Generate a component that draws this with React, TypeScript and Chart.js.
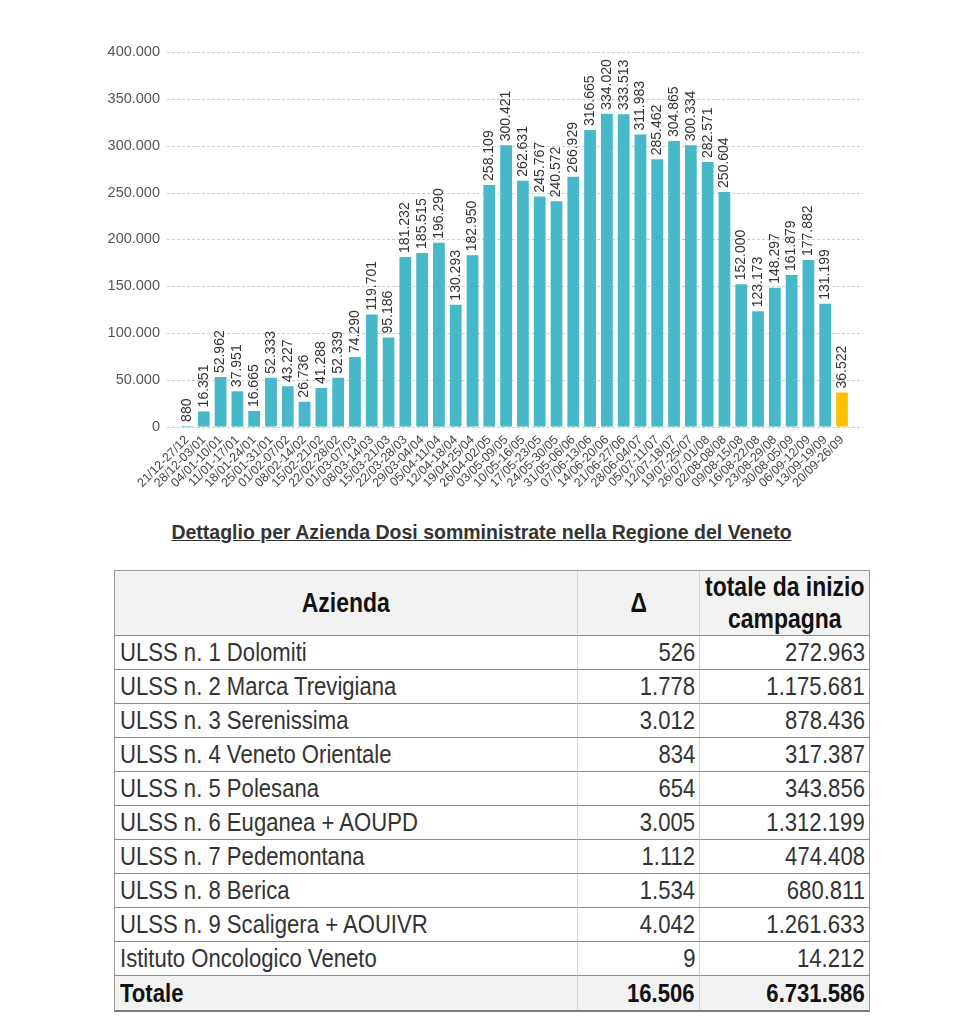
import React, { useEffect, useRef } from "react";
import { Chart, registerables } from "chart.js";

Chart.register(...registerables);

const weeks = [
  "21/12-27/12", "28/12-03/01", "04/01-10/01", "11/01-17/01", "18/01-24/01",
  "25/01-31/01", "01/02-07/02", "08/02-14/02", "15/02-21/02", "22/02-28/02",
  "01/03-07/03", "08/03-14/03", "15/03-21/03", "22/03-28/03", "29/03-04/04",
  "05/04-11/04", "12/04-18/04", "19/04-25/04", "26/04-02/05", "03/05-09/05",
  "10/05-16/05", "17/05-23/05", "24/05-30/05", "31/05-06/06", "07/06-13/06",
  "14/06-20/06", "21/06-27/06", "28/06-04/07", "05/07-11/07", "12/07-18/07",
  "19/07-25/07", "26/07-01/08", "02/08-08/08", "09/08-15/08", "16/08-22/08",
  "23/08-29/08", "30/08-05/09", "06/09-12/09", "13/09-19/09", "20/09-26/09",
];

const doses = [
  880, 16351, 52962, 37951, 16665, 52333, 43227, 26736, 41288, 52339,
  74290, 119701, 95186, 181232, 185515, 196290, 130293, 182950, 258109, 300421,
  262631, 245767, 240572, 266929, 316665, 334020, 333513, 311983, 285462, 304865,
  300334, 282571, 250604, 152000, 123173, 148297, 161879, 177882, 131199, 36522,
];

const yMin = 0;
const yMax = 400000;
const yStep = 50000;

const aziende = [
  "ULSS n. 1 Dolomiti",
  "ULSS n. 2 Marca Trevigiana",
  "ULSS n. 3 Serenissima",
  "ULSS n. 4 Veneto Orientale",
  "ULSS n. 5 Polesana",
  "ULSS n. 6 Euganea + AOUPD",
  "ULSS n. 7 Pedemontana",
  "ULSS n. 8 Berica",
  "ULSS n. 9 Scaligera + AOUIVR",
  "Istituto Oncologico Veneto",
];
const delta = [526, 1778, 3012, 834, 654, 3005, 1112, 1534, 4042, 9];
const totaleInizio = [272963, 1175681, 878436, 317387, 343856, 1312199, 474408, 680811, 1261633, 14212];
const totaleLabel = "Totale";
const totaleDelta = 16506;
const totaleTotale = 6731586;

const titleText = "Dettaglio per Azienda Dosi somministrate nella Regione del Veneto";

const fmt = (n: number) => String(n).replace(/\B(?=(\d{3})+(?!\d))/g, ".");

const TEAL = "#46B8C8";
const GOLD = "#FFC000";

const CANVAS_W = 947;
const CANVAS_H = 505;

const extGrid = {
  id: "extGrid",
  beforeDatasetsDraw(chart: any) {
    const y = chart.scales.y;
    const { left, right } = chart.chartArea;
    const ctx = chart.ctx;
    ctx.save();
    ctx.strokeStyle = "#cdcdcd";
    ctx.lineWidth = 1;
    ctx.setLineDash([3, 2]);
    y.ticks.forEach((t: any) => {
      const py = Math.round(y.getPixelForValue(t.value)) + 0.5;
      ctx.beginPath();
      ctx.moveTo(left - 11.6, py);
      ctx.lineTo(right + 12.6, py);
      ctx.stroke();
    });
    ctx.restore();
  },
};

const valueLabels = {
  id: "valueLabels",
  afterDatasetsDraw(chart: any) {
    const ctx = chart.ctx;
    const meta = chart.getDatasetMeta(0);
    const data = chart.data.datasets[0].data;
    ctx.save();
    ctx.fillStyle = "#333";
    ctx.font = "14px 'Liberation Sans', Arial, sans-serif";
    ctx.textAlign = "left";
    ctx.textBaseline = "middle";
    meta.data.forEach((bar: any, i: number) => {
      ctx.save();
      ctx.translate(bar.x, bar.y - 4);
      ctx.rotate(-Math.PI / 2);
      ctx.fillText(fmt(data[i] as number), 0, 0);
      ctx.restore();
    });
    ctx.restore();
  },
};

function BarChart() {
  const ref = useRef<HTMLCanvasElement | null>(null);
  useEffect(() => {
    if (!ref.current) return;
    const chart = new Chart(ref.current, {
      type: "bar",
      data: {
        labels: weeks,
        datasets: [
          {
            data: doses,
            backgroundColor: doses.map((_, i) => (i === doses.length - 1 ? GOLD : TEAL)),
            barPercentage: 0.7,
            categoryPercentage: 1.0,
          },
        ],
      },
      options: {
        animation: false,
        responsive: false,
        devicePixelRatio: 1,
        layout: { padding: { left: 0, right: 104.6, top: 44, bottom: 6.3 } },
        plugins: { legend: { display: false }, tooltip: { enabled: false } },
        scales: {
          x: {
            grid: { display: false, drawTicks: false },
            border: { display: false },
            ticks: {
              minRotation: 45,
              maxRotation: 45,
              autoSkip: false,
              padding: 6,
              color: "#444",
              font: { family: "'Liberation Sans', Arial, sans-serif", size: 12.5 },
            },
            afterFit: (s: any) => {
              s.height = 80;
              s.paddingLeft = 0;
              s.paddingRight = 0;
            },
          },
          y: {
            min: yMin,
            max: yMax,
            grid: { display: false, drawTicks: false },
            border: { display: false },
            ticks: {
              stepSize: yStep,
              padding: 18.6,
              color: "#555",
              font: { family: "'Liberation Sans', Arial, sans-serif", size: 14.5 },
              callback: (v: any) => fmt(Number(v)),
            },
            afterFit: (s: any) => {
              s.width = 170.6;
              s.paddingTop = 0;
              s.paddingBottom = 0;
            },
          },
        },
      },
      plugins: [extGrid, valueLabels],
    });
    return () => chart.destroy();
  }, []);
  return (
    <canvas
      ref={ref}
      width={CANVAS_W}
      height={CANVAS_H}
      style={{ position: "absolute", left: 0, top: 0, width: CANVAS_W, height: CANVAS_H, display: "block" }}
    />
  );
}

const TABLE_FONT = "'Liberation Sans', Arial, sans-serif";
const HBORDER = "1px solid #8a8a8a";
const VBORDER = "1px solid #d2d2d2";
const SQUEEZE = 0.85;

function Cell(props: {
  children: React.ReactNode;
  align: "left" | "right" | "center";
  bold?: boolean;
  bg?: string;
  lastCol?: boolean;
  lastRow?: boolean;
  size?: number;
  lh?: string;
}) {
  const { children, align, bold, bg, lastCol, lastRow, size, lh } = props;
  const origin = align === "left" ? "left center" : align === "right" ? "right center" : "center center";
  return (
    <div
      style={{
        boxSizing: "border-box",
        display: "flex",
        alignItems: "center",
        justifyContent: align === "left" ? "flex-start" : align === "right" ? "flex-end" : "center",
        textAlign: align,
        paddingLeft: align === "left" ? 5 : 0,
        paddingRight: align === "right" ? 4 : 0,
        background: bg || "#fff",
        borderRight: lastCol ? "none" : VBORDER,
        borderBottom: lastRow ? "none" : HBORDER,
        fontWeight: bold ? "bold" : "normal",
        fontSize: size || 26,
        lineHeight: lh || "normal",
        color: bold ? "#111" : "#333",
        whiteSpace: "nowrap",
        overflow: "hidden",
      }}
    >
      <span style={{ display: "inline-block", transform: `scaleX(${SQUEEZE})`, transformOrigin: origin, flexShrink: 0 }}>
        {children}
      </span>
    </div>
  );
}

function DataTable() {
  const HEAD_BG = "#f2f2f2";
  return (
    <div
      style={{
        position: "absolute",
        left: 106,
        top: 562,
        width: 756,
        height: 442,
        boxSizing: "border-box",
        border: "1px solid #999",
        borderBottom: "2px solid #7a7a7a",
        display: "grid",
        gridTemplateColumns: "463px 122px 169px",
        gridTemplateRows: "65px repeat(11, 1fr)",
        fontFamily: TABLE_FONT,
      }}
    >
      <Cell align="center" bold bg={HEAD_BG} size={27}>Azienda</Cell>
      <Cell align="center" bold bg={HEAD_BG} size={27}>Δ</Cell>
      <Cell align="center" bold bg={HEAD_BG} size={27} lastCol lh="32px">
        totale da inizio<br />campagna
      </Cell>
      {aziende.map((a, i) => (
        <React.Fragment key={a}>
          <Cell align="left">{a}</Cell>
          <Cell align="right">{fmt(delta[i])}</Cell>
          <Cell align="right" lastCol>{fmt(totaleInizio[i])}</Cell>
        </React.Fragment>
      ))}
      <Cell align="left" bold bg={HEAD_BG} lastRow>{totaleLabel}</Cell>
      <Cell align="right" bold bg={HEAD_BG} lastRow>{fmt(totaleDelta)}</Cell>
      <Cell align="right" bold bg={HEAD_BG} lastRow lastCol>{fmt(totaleTotale)}</Cell>
    </div>
  );
}

export default function App() {
  return (
    <div style={{ position: "relative", width: 947, height: 1008 }}>
      <BarChart />
      <div
        style={{
          position: "absolute",
          left: 0,
          top: 514.3,
          width: 947,
          textAlign: "center",
          fontFamily: "'Liberation Sans', Arial, sans-serif",
          fontWeight: "bold",
          fontSize: 19.5,
          lineHeight: "20px",
          color: "#333",
          textDecoration: "underline",
        }}
      >
        {titleText}
      </div>
      <DataTable />
    </div>
  );
}
